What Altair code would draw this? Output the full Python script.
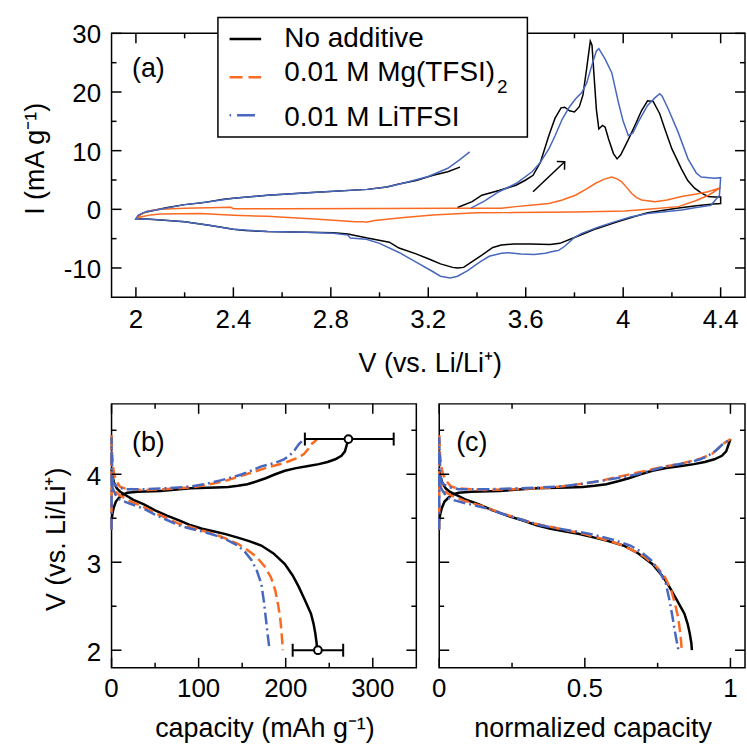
import altair as alt
import pandas as pd

# ---------------- data: panel (a) cyclic voltammetry ----------------
CV_BLACK_V = [3.32, 3.38, 3.42, 3.49, 3.56, 3.60, 3.63, 3.66, 3.695, 3.72,
              3.745, 3.76, 3.78, 3.80, 3.82, 3.835, 3.85, 3.865, 3.872, 3.88,
              3.89, 3.90, 3.915, 3.926, 3.94, 3.96, 3.975, 3.99, 4.02, 4.048,
              4.075, 4.10, 4.123, 4.15, 4.171, 4.20, 4.239, 4.265, 4.293, 4.32,
              4.348, 4.375, 4.40, 4.40, 4.37, 4.30, 4.22, 4.10, 4.04, 3.97,
              3.89, 3.80, 3.74, 3.70, 3.62, 3.55, 3.50, 3.465, 3.42, 3.38,
              3.345, 3.32, 3.30, 3.25, 3.21, 3.15, 3.08, 3.04, 2.95, 2.87,
              2.81, 2.70, 2.54, 2.45, 2.40, 2.30, 2.20, 2.13, 2.06, 2.00,
              2.01, 2.03, 2.08, 2.13, 2.20, 2.27, 2.36, 2.40, 2.54, 2.74,
              2.95, 3.03, 3.08, 3.15, 3.22, 3.28, 3.33]
CV_BLACK_I = [0.3, 1.3, 2.4, 3.2, 4.1, 5.0, 5.8, 8.0, 12.6, 15.5,
              17.3, 17.4, 16.8, 16.6, 17.5, 19.5, 24.0, 28.7, 28.0, 23.0,
              17.0, 13.7, 14.3, 14.0, 12.0, 9.5, 8.6, 9.3, 11.8, 14.3,
              16.8, 18.5, 18.4, 16.3, 13.7, 10.3, 6.9, 4.9, 3.6, 2.8,
              2.2, 2.1, 2.1, 1.0, 0.9, 0.6, 0.2, -0.6, -1.3, -2.2,
              -3.3, -4.8, -5.8, -6.0, -5.9, -5.9, -6.1, -6.5, -7.8, -8.9,
              -9.9, -10.0, -9.9, -9.3, -8.6, -7.6, -6.6, -5.6, -4.9, -4.2,
              -4.0, -3.9, -3.8, -3.6, -3.4, -2.7, -2.1, -1.9, -1.7, -1.6,
              -1.1, -0.6, -0.1, 0.3, 0.8, 1.1, 1.7, 1.9, 2.4, 2.9,
              3.4, 3.8, 4.3, 4.9, 5.8, 6.4, 7.2]

CV_BLUE_V = [3.375, 3.43, 3.49, 3.56, 3.626, 3.66, 3.695, 3.72, 3.75, 3.78,
             3.804, 3.83, 3.85, 3.871, 3.89, 3.90, 3.926, 3.953, 3.98, 4.00,
             4.021, 4.04, 4.062, 4.10, 4.13, 4.15, 4.16, 4.185, 4.225, 4.266,
             4.30, 4.32, 4.375, 4.40, 4.395, 4.36, 4.30, 4.24, 4.17, 4.10,
             4.03, 3.967, 3.90, 3.83, 3.80, 3.76, 3.735, 3.72, 3.68, 3.635,
             3.58, 3.53, 3.50, 3.45, 3.414, 3.36, 3.32, 3.29, 3.25, 3.218,
             3.15, 3.082, 3.00, 2.946, 2.88, 2.87, 2.81, 2.70, 2.54, 2.40,
             2.30, 2.20, 2.10, 2.00, 2.01, 2.04, 2.10, 2.20, 2.30, 2.40,
             2.54, 2.74, 2.95, 3.03, 3.10, 3.20, 3.28, 3.327, 3.37]
CV_BLUE_I = [0.2, 1.4, 3.0, 4.4, 6.4, 8.0, 10.3, 12.5, 15.4, 17.5,
             18.8, 19.9, 21.5, 24.5, 27.0, 27.4, 25.6, 23.3, 18.3, 15.0,
             12.6, 13.0, 14.9, 17.7, 19.0, 19.7, 19.3, 17.1, 13.2, 8.6,
             6.2, 5.5, 5.3, 5.4, 2.4, 0.7, 0.3, -0.1, -0.4, -0.7,
             -1.3, -2.1, -3.0, -4.1, -4.8, -6.3, -7.0, -7.1, -7.5, -7.7,
             -7.6, -7.4, -7.5, -8.0, -8.9, -10.5, -11.4, -11.7, -11.4, -10.6,
             -9.0, -7.4, -5.8, -5.1, -4.9, -4.4, -4.1, -3.9, -3.8, -3.4,
             -2.7, -2.1, -1.8, -1.6, -1.0, -0.4, 0.0, 0.8, 1.3, 1.9,
             2.4, 2.9, 3.4, 3.8, 4.5, 5.6, 7.0, 8.4, 9.8]

CV_ORANGE_V = [3.30, 3.40, 3.50, 3.558, 3.62, 3.695, 3.75, 3.804, 3.85, 3.885,
               3.92, 3.953, 3.975, 3.994, 4.015, 4.035, 4.055, 4.076, 4.13, 4.18,
               4.24, 4.30, 4.348, 4.40, 4.35, 4.30, 4.227, 4.10, 4.007, 3.80,
               3.55, 3.40, 3.218, 3.10, 2.98, 2.945, 2.93, 2.90, 2.75, 2.538,
               2.40, 2.265, 2.10, 2.06, 2.02, 2.00, 2.02, 2.05, 2.10, 2.20,
               2.39, 2.40, 2.60, 3.00, 3.30, 3.40]
CV_ORANGE_I = [0.2, 0.17, 0.2, 0.46, 0.7, 1.0, 1.6, 2.4, 3.5, 4.4,
               5.1, 5.5, 5.2, 4.7, 3.7, 2.7, 2.0, 1.6, 1.3, 1.6,
               2.2, 2.6, 3.0, 3.7, 2.4, 1.5, 0.46, 0.0, -0.27, -0.45,
               -0.56, -0.6, -0.95, -1.4, -1.9, -2.2, -2.1, -2.1, -1.7, -1.2,
               -1.0, -0.7, -0.8, -0.95, -1.3, -1.6, -0.9, -0.3, 0.0, 0.2,
               0.35, 0.1, 0.1, 0.15, 0.17, 0.17]

ARROW_V = [3.63, 3.76]
ARROW_I = [3.0, 8.1]

# ---------------- data: panel (b) charge / discharge ----------------
B_BLACK_CHG_CAP = [0, 1, 2.5, 5, 8.7, 13, 18, 30, 56, 91, 120, 134, 145, 156, 167,
                   177, 188, 199, 212, 226, 238, 248, 257, 264, 268, 270, 272]
B_BLACK_CHG_V = [3.47, 3.55, 3.62, 3.69, 3.735, 3.77, 3.79, 3.80, 3.81, 3.84, 3.85,
                 3.856, 3.87, 3.887, 3.92, 3.955, 4.00, 4.04, 4.07, 4.094, 4.115,
                 4.14, 4.17, 4.21, 4.26, 4.33, 4.40]
B_BLACK_DIS_CAP = [0, 1, 3, 6, 10, 15, 25, 36.6, 50, 63.6, 79, 91, 104, 118, 131,
                   145, 158, 172, 186, 199, 208, 215, 222, 229, 232, 234, 235.5, 236]
B_BLACK_DIS_V = [4.05, 3.98, 3.90, 3.84, 3.80, 3.77, 3.71, 3.66, 3.59, 3.53, 3.47,
                 3.42, 3.38, 3.35, 3.32, 3.28, 3.24, 3.19, 3.10, 2.98, 2.85, 2.72,
                 2.57, 2.415, 2.30, 2.19, 2.08, 2.00]

B_ORANGE_CHG_CAP = [0, 0, 0.5, 1.5, 3, 6, 9.5, 15, 36.6, 60, 91, 110, 129, 145, 161,
                    180, 199, 212, 221, 226, 229, 233, 236]
B_ORANGE_CHG_V = [3.37, 4.45, 4.25, 4.10, 4.00, 3.92, 3.86, 3.84, 3.82, 3.83, 3.85,
                  3.88, 3.92, 3.97, 4.02, 4.08, 4.13, 4.18, 4.23, 4.29, 4.34, 4.37, 4.40]
B_ORANGE_DIS_CAP = [0, 2, 5, 9.5, 20, 36.6, 50, 63.6, 77, 91, 104, 118, 131, 145, 156,
                    166.6, 176, 183, 188, 191, 193.5, 195, 196, 196.5]
B_ORANGE_DIS_V = [3.98, 3.88, 3.80, 3.76, 3.70, 3.63, 3.56, 3.50, 3.44, 3.40, 3.36,
                  3.32, 3.27, 3.21, 3.14, 3.06, 2.95, 2.83, 2.68, 2.53, 2.38, 2.23,
                  2.10, 2.00]

B_BLUE_CHG_CAP = [0, 0, 0.8, 2, 4, 8, 15, 36.6, 60, 91, 108, 125, 140, 150, 160,
                  172, 188, 198, 204, 210, 215, 218, 221]
B_BLUE_CHG_V = [3.37, 4.42, 4.00, 3.90, 3.88, 3.85, 3.83, 3.83, 3.84, 3.86, 3.89,
                3.93, 3.97, 4.00, 4.04, 4.09, 4.13, 4.17, 4.21, 4.27, 4.34, 4.37, 4.40]
B_BLUE_DIS_CAP = [0, 3, 6, 10, 20, 36.6, 50, 63.6, 77, 91, 104, 118, 131, 145, 153,
                  161, 167, 172, 175, 177, 179, 181, 181.5]
B_BLUE_DIS_V = [3.88, 3.80, 3.74, 3.71, 3.67, 3.61, 3.54, 3.48, 3.42, 3.38, 3.35,
                3.31, 3.26, 3.19, 3.12, 3.02, 2.90, 2.755, 2.55, 2.38, 2.20, 2.04, 2.00]

# error bars (no additive): mean capacity and spread
ERR_V = [4.4, 2.0]
ERR_MEAN = [272, 237]
ERR_LO = [222, 208]
ERR_HI = [324, 266]

LEGEND_LABELS = ["No additive", "0.01 M Mg(TFSI)", "0.01 M LiTFSI"]
PANEL_LABELS = ["(a)", "(b)", "(c)"]
TITLE_A_X = "V (vs. Li/Li\u207a)"
TITLE_A_Y = "I (mA g\u207b\u00b9)"
TITLE_B_X = "capacity (mAh g\u207b\u00b9)"
TITLE_B_Y = "V (vs. Li/Li\u207a)"
TITLE_C_X = "normalized capacity"

# tick values and labels
A_X_MAJOR = [2.0, 2.4, 2.8, 3.2, 3.6, 4.0, 4.4]
A_X_LABELS = ["2", "2.4", "2.8", "3.2", "3.6", "4", "4.4"]
A_X_MINOR = [2.2, 2.6, 3.0, 3.4, 3.8, 4.2]
A_Y_MAJOR = [-10, 0, 10, 20, 30]
A_Y_LABELS = ["-10", "0", "10", "20", "30"]
A_Y_MINOR = [-5, 5, 15, 25]
B_X_MAJOR = [0, 100, 200, 300]
B_X_LABELS = ["0", "100", "200", "300"]
B_X_MINOR = [50, 150, 250]
B_Y_MAJOR = [2, 3, 4]
B_Y_LABELS = ["2", "3", "4"]
B_Y_MINOR = [2.5, 3.5, 4.5]
C_X_MAJOR = [0, 0.5, 1]
C_X_LABELS = ["0", "0.5", "1"]
C_X_MINOR = [0.25, 0.75]

# ---------------- styling ----------------
FONT = "Liberation Sans"
BLACK = "#000000"
ORANGE = "#FA6A22"
BLUE = "#4867BE"
WA, HA = 636, 265
WB, HB = 306, 265
WC = 307

one = pd.DataFrame({"a": [0]})


def sdf(x, y):
    d = pd.DataFrame({"x": x, "y": y})
    d["idx"] = range(len(d))
    return d


def tick_layers(xmaj, xmin, ymaj, ymin, xsc, ysc, W, H):
    out = []
    for vals, L in ((xmaj, 10), (xmin, 5)):
        base = alt.Chart(pd.DataFrame({"t": vals})).mark_rule(color="black", strokeWidth=1.5)
        out.append(base.encode(x=alt.X("t:Q", scale=xsc, axis=None),
                               y=alt.value(H), y2=alt.value(H - L)))
        out.append(base.encode(x=alt.X("t:Q", scale=xsc, axis=None),
                               y=alt.value(0), y2=alt.value(L)))
    for vals, L in ((ymaj, 10), (ymin, 5)):
        base = alt.Chart(pd.DataFrame({"t": vals})).mark_rule(color="black", strokeWidth=1.5)
        out.append(base.encode(y=alt.Y("t:Q", scale=ysc, axis=None),
                               x=alt.value(0), x2=alt.value(L)))
        out.append(base.encode(y=alt.Y("t:Q", scale=ysc, axis=None),
                               x=alt.value(W), x2=alt.value(W - L)))
    return out


def xlabels(vals, labels, xsc, y, size=26):
    d = pd.DataFrame({"t": vals, "lab": labels})
    return alt.Chart(d).mark_text(font=FONT, fontSize=size, align="center",
                                  baseline="alphabetic", color="black").encode(
        x=alt.X("t:Q", scale=xsc, axis=None), y=alt.value(y), text="lab:N")


def ylabels(vals, labels, ysc, x, dy, size=26):
    d = pd.DataFrame({"t": vals, "lab": labels})
    return alt.Chart(d).mark_text(font=FONT, fontSize=size, align="right",
                                  baseline="alphabetic", color="black", dy=dy).encode(
        y=alt.Y("t:Q", scale=ysc, axis=None), x=alt.value(x), text="lab:N")


def label_text(text, x, y, size=27, align="left", angle=0):
    return alt.Chart(one).mark_text(font=FONT, fontSize=size, align=align,
                                    baseline="alphabetic", color="black",
                                    angle=angle).encode(
        x=alt.value(x), y=alt.value(y), text=alt.value(text))


# ---------------- panel (a) ----------------
xsa = alt.Scale(domain=[1.9, 4.5], nice=False, zero=False)
ysa = alt.Scale(domain=[-15, 30], nice=False, zero=False)

layers_a = []
for (vx, iy, col) in ((CV_BLACK_V, CV_BLACK_I, BLACK),
                      (CV_ORANGE_V, CV_ORANGE_I, ORANGE),
                      (CV_BLUE_V, CV_BLUE_I, BLUE)):
    layers_a.append(alt.Chart(sdf(vx, iy)).mark_line(color=col, strokeWidth=1.5).encode(
        x=alt.X("x:Q", scale=xsa, axis=None),
        y=alt.Y("y:Q", scale=ysa, axis=None),
        order="idx:Q"))

arrow_df = pd.DataFrame({"x": [ARROW_V[0]], "y": [ARROW_I[0]],
                         "x2": [ARROW_V[1]], "y2": [ARROW_I[1]]})
layers_a.append(alt.Chart(arrow_df).mark_rule(color="black", strokeWidth=1.5).encode(
    x=alt.X("x:Q", scale=xsa, axis=None), y=alt.Y("y:Q", scale=ysa, axis=None),
    x2="x2:Q", y2="y2:Q"))
layers_a.append(alt.Chart(arrow_df).mark_point(
    shape="M-1,1L0,0L1,1", size=128, angle=46.6, filled=False, color="black",
    strokeWidth=1.5, opacity=1).encode(
    x=alt.X("x2:Q", scale=xsa, axis=None), y=alt.Y("y2:Q", scale=ysa, axis=None)))

layers_a += tick_layers(A_X_MAJOR, A_X_MINOR, A_Y_MAJOR, A_Y_MINOR, xsa, ysa, WA, HA)
layers_a.append(xlabels(A_X_MAJOR, A_X_LABELS, xsa, HA + 31))
layers_a.append(ylabels(A_Y_MAJOR, A_Y_LABELS, ysa, -10.5, 10))
layers_a.append(label_text(TITLE_A_X, 320, 340, 27, "center"))
layers_a.append(label_text(TITLE_A_Y, -68, 126, 27, "center", 270))

# legend box
layers_a.append(alt.Chart(one).mark_rect(fill="white", stroke="black", strokeWidth=1.5).encode(
    x=alt.value(106.8), x2=alt.value(417.5), y=alt.value(-16), y2=alt.value(104)))
layers_a.append(alt.Chart(one).mark_rule(color=BLACK, strokeWidth=2.5).encode(
    x=alt.value(118.5), x2=alt.value(150.2), y=alt.value(5.7)))
layers_a.append(alt.Chart(one).mark_rule(color=ORANGE, strokeWidth=2.5, strokeDash=[13, 6]).encode(
    x=alt.value(118.5), x2=alt.value(150.2), y=alt.value(44)))
layers_a.append(alt.Chart(one).mark_rule(color=BLUE, strokeWidth=2.5, strokeDash=[1.5, 6, 18, 6]).encode(
    x=alt.value(118.5), x2=alt.value(146), y=alt.value(82.3)))
layers_a.append(label_text(LEGEND_LABELS[0], 173.5, 13.3, 28))
layers_a.append(label_text(LEGEND_LABELS[1], 173.5, 48, 28))
layers_a.append(label_text("2", 387, 60, 19))
layers_a.append(label_text(LEGEND_LABELS[2], 173.5, 93, 28))
layers_a.append(label_text(PANEL_LABELS[0], 20.5, 44, 27))
# invisible anchor fixing the top-left corner of the page
layers_a.append(alt.Chart(one).mark_rule(color="white", strokeWidth=1).encode(
    x=alt.value(-110), x2=alt.value(-109), y=alt.value(-30.5)))

panel_a = alt.layer(*layers_a).properties(width=WA, height=HA)

# ---------------- panel (b) ----------------
xsb = alt.Scale(domain=[0, 350], nice=False, zero=False)
ysb = alt.Scale(domain=[1.8, 4.8], nice=False, zero=False)

curves = [
    (B_BLACK_CHG_CAP, B_BLACK_CHG_V, BLACK, None),
    (B_BLACK_DIS_CAP, B_BLACK_DIS_V, BLACK, None),
    (B_ORANGE_CHG_CAP, B_ORANGE_CHG_V, ORANGE, [11, 5]),
    (B_ORANGE_DIS_CAP, B_ORANGE_DIS_V, ORANGE, [11, 5]),
    (B_BLUE_CHG_CAP, B_BLUE_CHG_V, BLUE, [12, 4, 2, 4]),
    (B_BLUE_DIS_CAP, B_BLUE_DIS_V, BLUE, [12, 4, 2, 4]),
]
charge_max = {BLACK: max(B_BLACK_CHG_CAP), ORANGE: max(B_ORANGE_CHG_CAP),
              BLUE: max(B_BLUE_CHG_CAP)}


def curve_layer(x, y, col, dash, xsc, ysc):
    kw = dict(color=col, strokeWidth=2.5)
    if dash:
        kw["strokeDash"] = dash
    return alt.Chart(sdf(x, y)).mark_line(**kw).encode(
        x=alt.X("x:Q", scale=xsc, axis=None), y=alt.Y("y:Q", scale=ysc, axis=None),
        order="idx:Q")


layers_b = [curve_layer(x, y, c, d, xsb, ysb) for x, y, c, d in curves]
err_df = pd.DataFrame({"v": ERR_V, "m": ERR_MEAN, "lo": ERR_LO, "hi": ERR_HI})
layers_b.append(alt.Chart(err_df).mark_rule(color="black", strokeWidth=2).encode(
    x=alt.X("lo:Q", scale=xsb, axis=None), x2="hi:Q", y=alt.Y("v:Q", scale=ysb, axis=None)))
for fld in ("lo", "hi"):
    layers_b.append(alt.Chart(err_df).mark_point(
        shape="M0,-1L0,1", size=169, filled=False, color="black", strokeWidth=2,
        opacity=1).encode(x=alt.X(f"{fld}:Q", scale=xsb, axis=None),
                          y=alt.Y("v:Q", scale=ysb, axis=None)))
layers_b.append(alt.Chart(err_df).mark_point(
    shape="circle", size=60, filled=True, fill="white", stroke="black", strokeWidth=2,
    opacity=1).encode(x=alt.X("m:Q", scale=xsb, axis=None), y=alt.Y("v:Q", scale=ysb, axis=None)))
layers_b += tick_layers(B_X_MAJOR, B_X_MINOR, B_Y_MAJOR, B_Y_MINOR, xsb, ysb, WB, HB)
layers_b.append(xlabels(B_X_MAJOR, B_X_LABELS, xsb, HB + 29))
layers_b.append(ylabels(B_Y_MAJOR, B_Y_LABELS, ysb, -10.5, 11))
layers_b.append(label_text(TITLE_B_X, 154, 334, 27, "center"))
layers_b.append(label_text(TITLE_B_Y, -46.5, 136, 27, "center", 270))
layers_b.append(label_text(PANEL_LABELS[1], 20.5, 47, 27))
panel_b = alt.layer(*layers_b).properties(width=WB, height=HB)

# ---------------- panel (c) ----------------
xsc_ = alt.Scale(domain=[0, 1.05], nice=False, zero=False)
ysc_ = alt.Scale(domain=[1.8, 4.8], nice=False, zero=False)
layers_c = [curve_layer([v / charge_max[c] for v in x], y, c, d, xsc_, ysc_)
            for x, y, c, d in curves]
layers_c += tick_layers(C_X_MAJOR, C_X_MINOR, B_Y_MAJOR, B_Y_MINOR, xsc_, ysc_, WC, HB)
layers_c.append(xlabels(C_X_MAJOR, C_X_LABELS, xsc_, HB + 29))
layers_c.append(label_text(TITLE_C_X, 154.5, 334, 27, "center"))
layers_c.append(label_text(PANEL_LABELS[2], 17, 47, 27))
panel_c = alt.layer(*layers_c).properties(width=WC, height=HB)

bottom = alt.hconcat(panel_b, panel_c, spacing=23, bounds="flush")
chart = alt.vconcat(panel_a, bottom, spacing=107, bounds="flush").properties(
    padding={"left": 0, "top": 0, "right": 0, "bottom": 0}
).configure_view(stroke="black", strokeWidth=1.5)

chart.save("out.html", embed_options={"renderer": "svg", "actions": False})
